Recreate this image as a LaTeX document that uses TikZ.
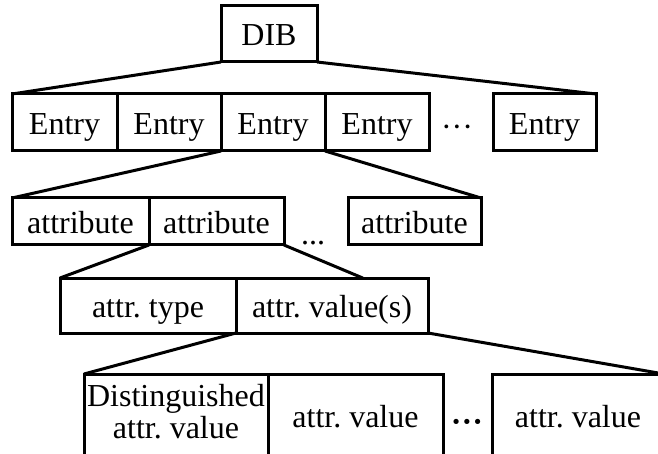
\documentclass[tikz,border=0pt]{standalone}
\usepackage{fontspec}
\setmainfont{Liberation Serif}
\usetikzlibrary{positioning,calc}
\begin{document}
\begin{tikzpicture}[x=1pt,y=-1pt,
  box/.style={draw, line width=3pt, inner sep=0pt, outer sep=0pt,
    font=\fontsize{32}{32}\selectfont, text height=26pt, text depth=2pt,
    minimum height=#1},
  link/.style={line width=3pt}]
  \useasboundingbox (0,0) rectangle (658,454);
  \clip (0,0) rectangle (658,454);
  \node[box=56, minimum width=96] (dib) at (269,34) {DIB};
  \node[box=57, minimum width=105] (e1) at (64.5,122.5) {Entry};
  \foreach \p/\q in {e1/e2,e2/e3,e3/e4}
    \node[box=57, minimum width=104, right=0pt of \p] (\q) {Entry};
  \node[font=\fontsize{32}{32}\selectfont] (edots) at (457,131) {···};
  \node[box=57, minimum width=103] (e5) at (544.5,122.5) {Entry};
  \node[box=47, minimum width=137] (a1) at (80.5,221.5) {attribute};
  \node[box=47, minimum width=135, right=0pt of a1] (a2) {attribute};
  \node[font=\fontsize{32}{32}\selectfont, anchor=base] (adots) at (313,244) {...};
  \node[box=47, minimum width=133] (a3) at (414.5,221.5) {attribute};
  \node[box=55, minimum width=176] (t) at (148,305.5) {attr.\ type};
  \node[box=55, minimum width=192, right=0pt of t] (v) {attr.\ value(s)};
  \node[box=90, minimum width=184] (d1) at (176,419)
    {\raisebox{9pt}{\begin{tabular}{@{}c@{}}Distinguished\\attr.\ value\end{tabular}}};
  \node[box=90, minimum width=175, text depth=10pt, right=0pt of d1] (d2) {attr.\ value};
  \node[font=\fontsize{32}{32}\selectfont\bfseries] (ddots) at (467,426) {···};
  \node[box=90, minimum width=172, text depth=10pt] (d3) at (578,419) {attr.\ value};
  \coordinate (vin) at ($(v.north west)!0.66!(v.north east)$);
  \draw[link] (dib.south west) -- (e1.north west);
  \draw[link] (dib.south east) -- (e5.north east);
  \draw[link] (e3.south west) -- (a1.north west);
  \draw[link] (e3.south east) -- (a3.north east);
  \draw[link] (a2.south west) -- (t.north west);
  \draw[link] (a2.south east) -- (vin);
  \draw[link] (v.south west) -- (d1.north west);
  \draw[link] (v.south east) -- (d3.north east);
\end{tikzpicture}
\end{document}
